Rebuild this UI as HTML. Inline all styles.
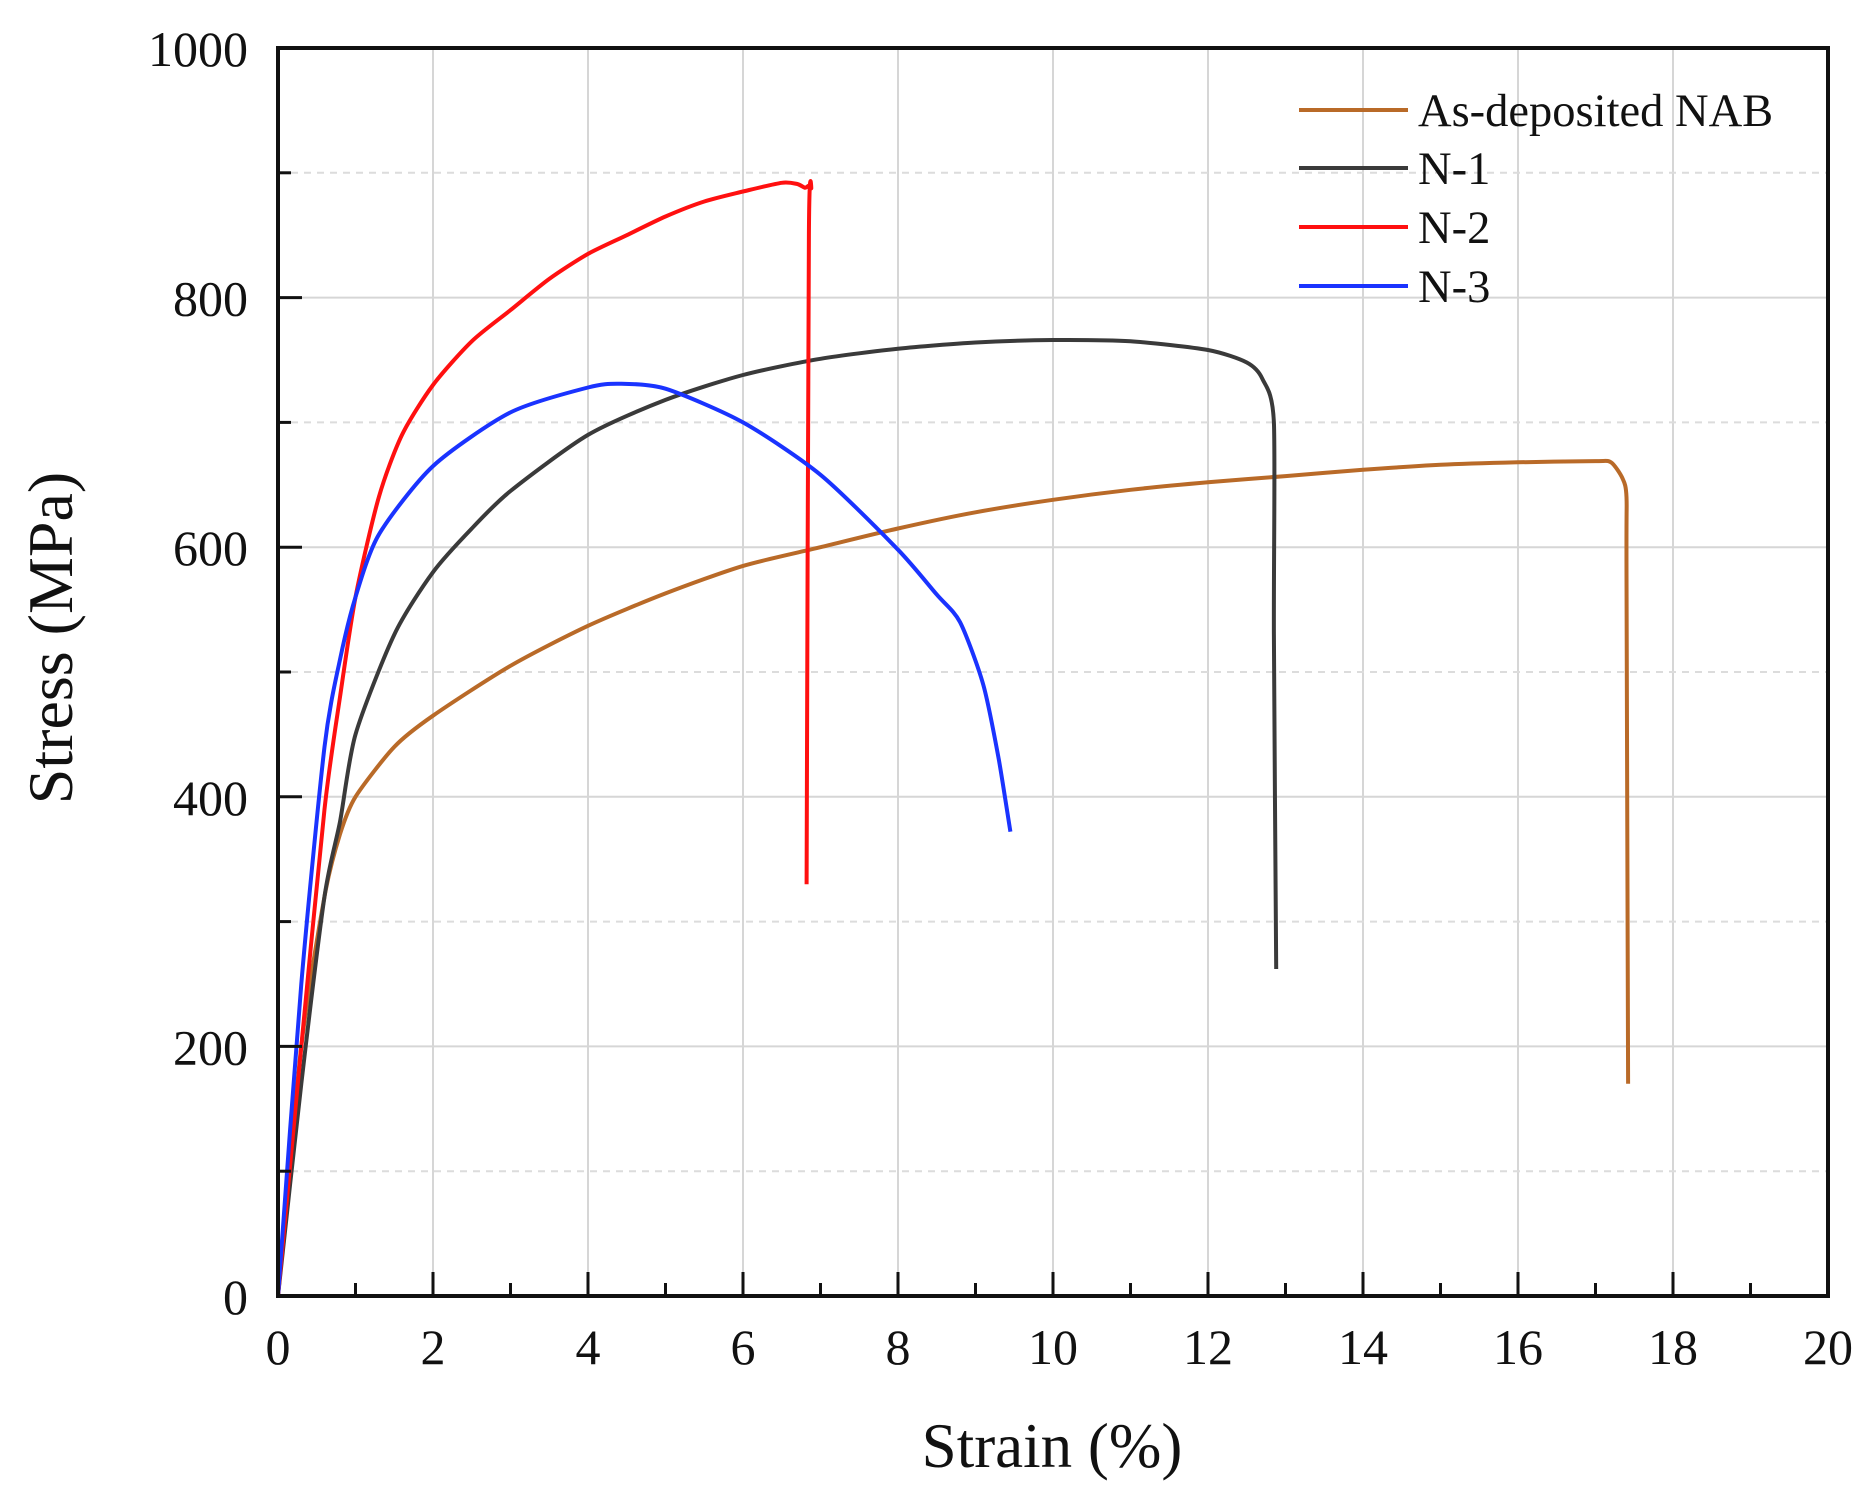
<!DOCTYPE html>
<html><head><meta charset="utf-8"><style>
body{margin:0;background:#fff}
svg{display:block}
text{font-family:"Liberation Serif",serif;fill:#111}
</style></head><body>
<svg id="chart" width="1871" height="1493" viewBox="0 0 1871 1493" xmlns="http://www.w3.org/2000/svg">
<g id="grid"></g>
<g id="series"></g>
<g id="axes"></g>
<g id="legend"></g>
<text x="1052" y="1467" font-size="63" text-anchor="middle">Strain (%)</text>
<text transform="translate(72,638) rotate(-90)" font-size="64" text-anchor="middle">Stress (MPa)</text>
</svg>
<script>
const xTicks=[0,2,4,6,8,10,12,14,16,18,20];
const yTicks=[0,200,400,600,800,1000];
const seriesNames=["As-deposited NAB","N-1","N-2","N-3"];
const seriesColors=["#b96a28","#3a3a3a","#ff1010","#1a33ff"];
const nabX=[0,0.3,0.6,0.8,1,1.5,2,3,4,5,6,7,8,9,10,11,12,13,14,15,16,17,17.2,17.35,17.4,17.4,17.42];
const nabY=[0,200,320,370,400,440,465,505,537,563,585,600,615,628,638,646,652,657,662,666,668,669,668,655,640,580,170];
const n1X=[0,0.3,0.6,0.8,1,1.5,2,2.5,3,4,5,6,7,8,9,10,11,12,12.5,12.7,12.85,12.85,12.88];
const n1Y=[0,170,320,380,450,530,580,615,645,690,718,738,751,759,764,766,765,758,748,735,700,530,262];
const n2X=[0,0.3,0.6,0.8,1,1.3,1.6,2,2.5,3,3.5,4,4.5,5,5.5,6,6.5,6.7,6.8,6.88,6.85,6.82];
const n2Y=[0,200,390,480,560,640,690,730,765,790,815,835,850,865,877,885,892,891,888,888,850,330];
const n3X=[0,0.3,0.6,0.8,1,1.3,2,3,4,4.4,5,6,7,8,8.5,8.8,9.1,9.3,9.45];
const n3Y=[0,250,440,510,560,610,665,708,728,731,727,700,658,598,562,540,490,430,372];

const L=278,R=1828,T=48,B=1296;
const sx=v=>L+(v-0)/20*(R-L);
const sy=v=>B-(v-0)/1000*(B-T);
const NS="http://www.w3.org/2000/svg";
function mk(tag,attrs,parent){const e=document.createElementNS(NS,tag);for(const k in attrs)e.setAttribute(k,attrs[k]);parent.appendChild(e);return e;}
function smooth(pts){let d='M'+pts[0][0].toFixed(1)+','+pts[0][1].toFixed(1);
for(let i=0;i<pts.length-1;i++){const p0=pts[i-1]||pts[i],p1=pts[i],p2=pts[i+1],p3=pts[i+2]||p2;const k=1/8;
const c1=[p1[0]+(p2[0]-p0[0])*k,p1[1]+(p2[1]-p0[1])*k],c2=[p2[0]-(p3[0]-p1[0])*k,p2[1]-(p3[1]-p1[1])*k];
d+=' C'+c1.map(v=>v.toFixed(1)).join(',')+' '+c2.map(v=>v.toFixed(1)).join(',')+' '+p2[0].toFixed(1)+','+p2[1].toFixed(1);}
return d;}
const grid=document.getElementById('grid'),axes=document.getElementById('axes'),ser=document.getElementById('series'),leg=document.getElementById('legend');
xTicks.forEach(v=>{if(v>0&&v<20){const g=mk('line',{x1:sx(v),x2:sx(v),y1:T,y2:B,stroke:'#d6d6d6','stroke-width':2},grid);

}});
yTicks.forEach(v=>{if(v>0&&v<1000){const g=mk('line',{x1:L,x2:R,y1:sy(v),y2:sy(v),stroke:'#d6d6d6','stroke-width':2},grid);

}});
for(let i=0;i<5;i++){const v=yTicks[i]+100;const g=mk('line',{x1:L,x2:R,y1:sy(v),y2:sy(v),stroke:'#dcdcdc','stroke-width':2,'stroke-dasharray':'7,6'},grid);

}
const sets=[[nabX,nabY],[n1X,n1Y],[n2X,n2Y],[n3X,n3Y]];
const sNames=['series-as-deposited-nab','series-n-1','series-n-2','series-n-3'];
sets.forEach((s,i)=>{const pts=s[0].map((x,j)=>[sx(x),sy(s[1][j])]);
const p=mk('path',{d:smooth(pts),fill:'none',stroke:seriesColors[i],'stroke-width':4,'stroke-linejoin':'round'},ser);

});
const fr=mk('rect',{x:L,y:T,width:R-L,height:B-T,fill:'none',stroke:'#111','stroke-width':4},axes);


xTicks.forEach(v=>{const t=mk('line',{x1:sx(v),x2:sx(v),y1:B,y2:B-24,stroke:'#111','stroke-width':3},axes);


const tx=mk('text',{x:sx(v),y:1364,'font-size':50,'text-anchor':'middle'},axes);tx.textContent=v;


if(v<20){const m=mk('line',{x1:sx(v+1),x2:sx(v+1),y1:B,y2:B-13,stroke:'#111','stroke-width':3},axes);

}});
yTicks.forEach(v=>{const t=mk('line',{x1:L,x2:L+24,y1:sy(v),y2:sy(v),stroke:'#111','stroke-width':3},axes);


const tx=mk('text',{x:248,y:sy(v)+18,'font-size':50,'text-anchor':'end'},axes);tx.textContent=v;


if(v<1000){const m=mk('line',{x1:L,x2:L+13,y1:sy(v+100),y2:sy(v+100),stroke:'#111','stroke-width':3},axes);

}});
const ly=[110,168,227,286];
seriesNames.forEach((n,i)=>{const l=mk('line',{x1:1299,x2:1408,y1:ly[i],y2:ly[i],stroke:seriesColors[i],'stroke-width':4},leg);


const t=mk('text',{x:1418,y:ly[i]+16,'font-size':46.5},leg);t.textContent=n;

});
</script>
</body></html>
